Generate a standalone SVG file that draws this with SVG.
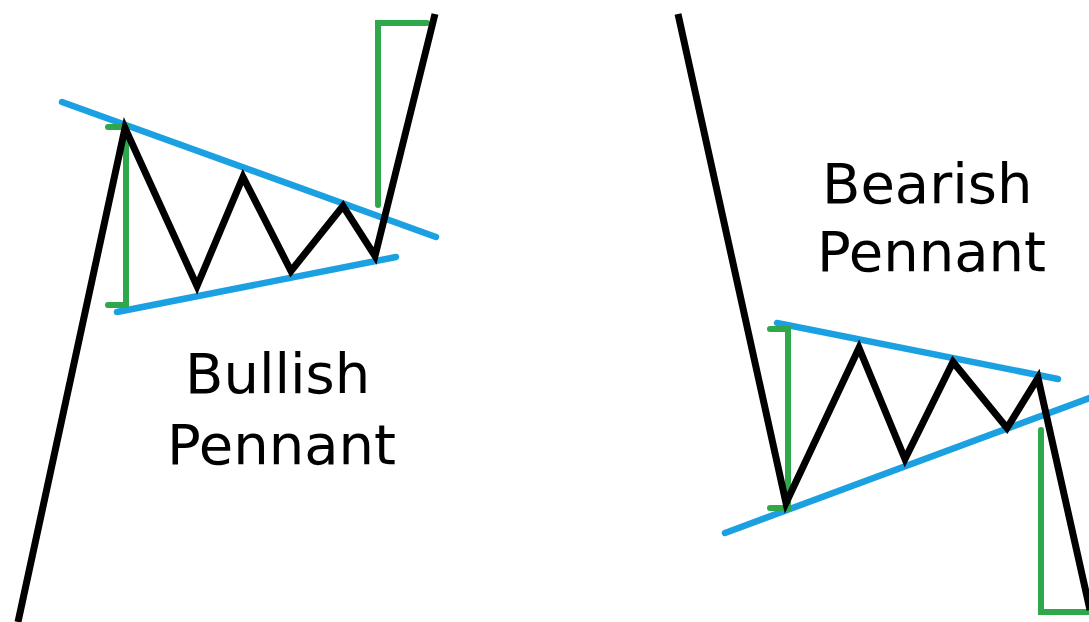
<svg xmlns="http://www.w3.org/2000/svg" width="1089" height="622" viewBox="0 0 1089 622">
<style>
.bk{fill:none;stroke:#000;stroke-width:7;stroke-linejoin:miter;stroke-linecap:butt}
.bl{fill:none;stroke:#1ba1e2;stroke-width:6.5;stroke-linecap:round}
.gr{fill:none;stroke:#2ea84a;stroke-width:6;stroke-linecap:round;stroke-linejoin:miter}
.t{font-family:"DejaVu Sans",Verdana,sans-serif;font-size:56px;fill:#000}
</style>
<rect width="1089" height="622" fill="#fff"/>
<g id="bullish">
<line class="bl" x1="62" y1="102" x2="436" y2="237"/>
<line class="bl" x1="117" y1="312" x2="396" y2="257"/>
<path class="gr" d="M108,127 H126 V305 H108"/>
<path class="gr" d="M378,205 V23 H427"/>
<polyline class="bk" points="18,622 125,128 197,286 243,177 291,271 343,206 375,256 435,14"/>
<text class="t" x="185" y="393">Bullish</text>
<text class="t" x="167" y="464">Pennant</text>
</g>
<g id="bearish">
<line class="bl" x1="777" y1="323" x2="1058" y2="379"/>
<line class="bl" x1="725" y1="533" x2="1095" y2="396"/>
<path class="gr" d="M770,329 H788 V508 H770"/>
<path class="gr" d="M1041,430 V612 H1092"/>
<polyline class="bk" points="678,14 786,503 859,348 905,459 953,362 1007,428 1038,378 1090,610"/>
<text class="t" x="822" y="203">Bearish</text>
<text class="t" x="817" y="271">Pennant</text>
</g>
<g id="connectors"></g>
</svg>
